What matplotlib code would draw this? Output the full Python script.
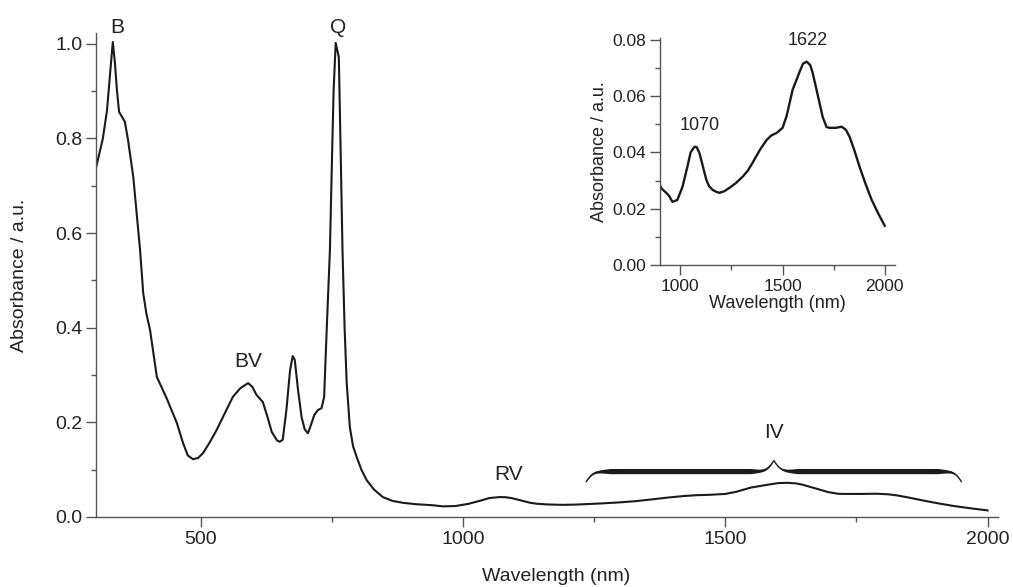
import numpy as np
import matplotlib
matplotlib.use("Agg")
import matplotlib.pyplot as plt
from matplotlib.ticker import MultipleLocator

plt.rcParams["font.family"] = ["Liberation Sans", "DejaVu Sans"]

# absorbance spectrum
wavelength = [300, 313, 321, 327, 332, 336, 340, 344, 350, 355, 361, 371, 384, 390, 396,
              403, 416, 435, 454, 466, 475, 485, 495, 504, 517, 530, 545, 561, 575, 590,
              598, 606, 618, 626, 635, 645, 650, 656, 663, 670, 675, 679, 685, 692, 698,
              704, 710, 716, 723, 730, 735, 740, 746, 750, 753, 757, 763, 766, 770, 774,
              778, 784, 790, 797, 806, 816, 830, 847, 865, 885, 910, 931, 945, 961, 985,
              1010, 1034, 1050, 1069, 1080, 1093, 1110, 1127, 1140, 1157, 1175, 1191, 1215,
              1240, 1270, 1304, 1330, 1353, 1390, 1422, 1445, 1471, 1500, 1520, 1549, 1580,
              1600, 1618, 1635, 1647, 1670, 1696, 1715, 1730, 1760, 1789, 1810, 1828, 1850,
              1877, 1905, 1936, 1970, 2000]
absorbance = [0.738, 0.80, 0.86, 0.94, 1.004, 0.96, 0.90, 0.856, 0.845, 0.835, 0.797, 0.719,
              0.564, 0.473, 0.43, 0.395, 0.296, 0.25, 0.199, 0.156, 0.13, 0.122, 0.125, 0.135,
              0.158, 0.184, 0.218, 0.254, 0.272, 0.283, 0.275, 0.258, 0.243, 0.215, 0.180,
              0.162, 0.159, 0.163, 0.226, 0.31, 0.340, 0.332, 0.27, 0.211, 0.185, 0.177, 0.195,
              0.215, 0.226, 0.230, 0.254, 0.40, 0.564, 0.76, 0.90, 1.002, 0.972, 0.80, 0.564,
              0.40, 0.283, 0.190, 0.15, 0.127, 0.10, 0.078, 0.058, 0.042, 0.034, 0.030, 0.027,
              0.0256, 0.0245, 0.0224, 0.0231, 0.0277, 0.0348, 0.040, 0.0420, 0.0418, 0.0398,
              0.035, 0.0302, 0.028, 0.0267, 0.026, 0.0256, 0.0262, 0.0274, 0.029, 0.0313,
              0.0335, 0.0363, 0.041, 0.0444, 0.046, 0.0469, 0.0487, 0.053, 0.0622, 0.068,
              0.0715, 0.0722, 0.071, 0.0683, 0.061, 0.0526, 0.049, 0.0487, 0.0487, 0.0491,
              0.048, 0.0455, 0.041, 0.0348, 0.029, 0.0231, 0.018, 0.0139]

band_labels = ["B", "BV", "Q", "RV", "IV"]
band_x = [340, 590, 761, 1087, 1593]
band_y = [1.034, 0.328, 1.034, 0.089, 0.178]

inset_labels = ["1070", "1622"]
inset_x = [1093, 1622]
inset_y = [0.0497, 0.0796]

# curly brace over the IV region
brace_start, brace_end = 1235, 1950
brace_base, brace_step = 0.075, 0.022

line_col = "#1a1a1a"
spine_col = "#555555"
text_col = "#222222"


def style_axes(ax, size):
    for s in ["top", "right"]:
        ax.spines[s].set_visible(False)
    for s in ["left", "bottom"]:
        ax.spines[s].set_color(spine_col)
        ax.spines[s].set_linewidth(1.0)
    ax.tick_params(which="major", direction="out", length=7, width=1.0, pad=3,
                   color=spine_col, labelcolor=text_col, labelsize=size)
    ax.tick_params(which="minor", direction="out", length=3.5, width=1.0, color=spine_col)


fig = plt.figure(figsize=(10.13, 5.87), dpi=100)
ax = fig.add_axes([0.0948, 0.1193, 0.8904, 0.8245])
ax.plot(wavelength, absorbance, color=line_col, lw=1.5)
ax.set_xlim(300, 2020)
ax.set_ylim(0, 1.023)
ax.xaxis.set_major_locator(MultipleLocator(500))
ax.xaxis.set_minor_locator(MultipleLocator(250))
ax.yaxis.set_major_locator(MultipleLocator(0.2))
ax.yaxis.set_minor_locator(MultipleLocator(0.1))
ax.yaxis.set_major_formatter(matplotlib.ticker.FormatStrFormatter("%.1f"))
style_axes(ax, 14)
ax.set_xlabel("Wavelength (nm)", fontsize=14, color=text_col)
ax.xaxis.set_label_coords(0.51, -0.105)
ax.set_ylabel("Absorbance / a.u.", fontsize=14, color=text_col)
ax.yaxis.set_label_coords(-0.075, 0.5)

for lab, x, y in zip(band_labels, band_x, band_y):
    ax.text(x, y, lab, fontsize=15, color=text_col, ha="center", va="center")

# brace built from two sigmoid halves
half = np.linspace(0, (brace_end - brace_start) / 2, 300)
beta = 0.15
yh = 1 / (1 + np.exp(-beta * (half - half[0]))) + 1 / (1 + np.exp(-beta * (half - half[-1])))
bx = np.concatenate([brace_start + half, brace_start + half[-1] + half[1:]])
by = np.concatenate([yh, yh[-2::-1]])
by = brace_base + (by - 0.5) * 2 * brace_step
dist = np.minimum(np.abs(bx - brace_start), np.abs(bx - brace_end))
dist = np.minimum(dist, np.abs(bx - (brace_start + brace_end) / 2))
thick = 0.011 * np.clip(dist / 45, 0, 1)
ax.fill_between(bx, by - thick / 2, by + thick / 2, color=line_col, lw=0)
ax.plot(bx, by, color=line_col, lw=1.0)

# inset
axi = fig.add_axes([0.6515, 0.5486, 0.2320, 0.3871])
axi.plot(wavelength, absorbance, color=line_col, lw=1.7)
axi.set_xlim(900, 2050)
axi.set_ylim(0, 0.0807)
axi.xaxis.set_major_locator(MultipleLocator(500))
axi.xaxis.set_minor_locator(MultipleLocator(250))
axi.yaxis.set_major_locator(MultipleLocator(0.02))
axi.yaxis.set_minor_locator(MultipleLocator(0.01))
axi.yaxis.set_major_formatter(matplotlib.ticker.FormatStrFormatter("%.2f"))
style_axes(axi, 12.5)
axi.set_xlabel("Wavelength (nm)", fontsize=13, color=text_col, labelpad=1)
axi.set_ylabel("Absorbance / a.u.", fontsize=13, color=text_col, labelpad=3)
for lab, x, y in zip(inset_labels, inset_x, inset_y):
    axi.text(x, y, lab, fontsize=13, color=text_col, ha="center", va="center")

fig.savefig("out.png", dpi=100)
